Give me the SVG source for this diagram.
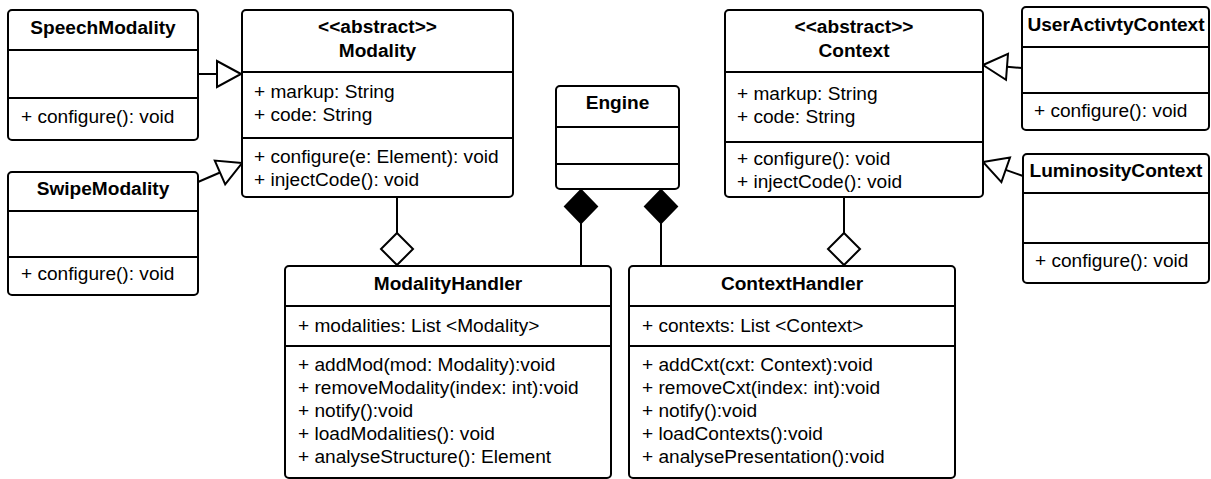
<svg xmlns="http://www.w3.org/2000/svg" width="1211" height="479" viewBox="0 0 1211 479">
  <style>
    .box { fill: #ffffff; stroke: #000000; stroke-width: 2; }
    .sep { stroke: #000000; stroke-width: 2; fill: none; }
    .edge { stroke: #000000; stroke-width: 2; fill: none; }
    .hollow { fill: #ffffff; stroke: #000000; stroke-width: 2; stroke-linejoin: miter; }
    .solid { fill: #000000; stroke: #000000; stroke-width: 2; }
    text { font-family: "Liberation Sans", Arial, sans-serif; font-size: 19.1px; fill: #000000; }
    .title { font-weight: bold; text-anchor: middle; }
  </style>

  <!-- connectors -->
  <g id="connectors">
    <!-- generalizations into Modality -->
    <line class="edge" x1="198" y1="74" x2="217" y2="74"/>
    <polygon class="hollow" points="241,74 217,61 217,87"/>
    <line class="edge" x1="198" y1="182" x2="220" y2="172.5"/>
    <polygon class="hollow" points="242,163 214.8,160.6 225.2,184.4"/>
    <!-- generalizations into Context -->
    <line class="edge" x1="1022" y1="68" x2="1007" y2="66.8"/>
    <polygon class="hollow" points="983,65 1008,53.8 1006,79.8"/>
    <line class="edge" x1="1023" y1="176" x2="1005.7" y2="169.9"/>
    <polygon class="hollow" points="983,162 1010,157.6 1001.4,182.2"/>
    <!-- aggregations -->
    <line class="edge" x1="397" y1="197" x2="397" y2="233"/>
    <polygon class="hollow" points="397,233 413,249 397,265 381,249"/>
    <line class="edge" x1="844" y1="197" x2="844" y2="233"/>
    <polygon class="hollow" points="844,233 860,249 844,265 828,249"/>
    <!-- compositions from Engine -->
    <line class="edge" x1="581" y1="223" x2="581" y2="266"/>
    <polygon class="solid" points="581,190 597,206.5 581,223 565,206.5"/>
    <line class="edge" x1="661" y1="223" x2="661" y2="266"/>
    <polygon class="solid" points="661,190 677,206.5 661,223 645,206.5"/>
  </g>

  <g id="SpeechModality">
    <rect class="box" x="8" y="10" width="190" height="130" rx="4"/>
    <line class="sep" x1="8" y1="50" x2="198" y2="50"/>
    <line class="sep" x1="8" y1="98" x2="198" y2="98"/>
    <text class="title" x="103" y="34">SpeechModality</text>
    <text x="21" y="123">+ configure(): void</text>
  </g>

  <g id="SwipeModality">
    <rect class="box" x="8" y="172" width="190" height="123" rx="4"/>
    <line class="sep" x1="8" y1="211" x2="198" y2="211"/>
    <line class="sep" x1="8" y1="257" x2="198" y2="257"/>
    <text class="title" x="103" y="195">SwipeModality</text>
    <text x="21" y="280">+ configure(): void</text>
  </g>

  <g id="Modality">
    <rect class="box" x="242" y="10" width="271" height="187" rx="4"/>
    <line class="sep" x1="242" y1="72" x2="513" y2="72"/>
    <line class="sep" x1="242" y1="138" x2="513" y2="138"/>
    <text class="title" x="377.5" y="33">&lt;&lt;abstract&gt;&gt;</text>
    <text class="title" x="377.5" y="57">Modality</text>
    <text x="254" y="98">+ markup: String</text>
    <text x="254" y="121">+ code: String</text>
    <text x="254" y="163">+ configure(e: Element): void</text>
    <text x="254" y="186">+ injectCode(): void</text>
  </g>

  <g id="Engine">
    <rect class="box" x="556" y="86" width="123" height="103" rx="4"/>
    <line class="sep" x1="556" y1="127" x2="679" y2="127"/>
    <line class="sep" x1="556" y1="164" x2="679" y2="164"/>
    <text class="title" x="617.5" y="109">Engine</text>
  </g>

  <g id="Context">
    <rect class="box" x="725" y="10" width="258" height="187" rx="4"/>
    <line class="sep" x1="725" y1="72" x2="983" y2="72"/>
    <line class="sep" x1="725" y1="142" x2="983" y2="142"/>
    <text class="title" x="854" y="33">&lt;&lt;abstract&gt;&gt;</text>
    <text class="title" x="854" y="57">Context</text>
    <text x="737" y="100">+ markup: String</text>
    <text x="737" y="123">+ code: String</text>
    <text x="737" y="165">+ configure(): void</text>
    <text x="737" y="188">+ injectCode(): void</text>
  </g>

  <g id="UserActivtyContext">
    <rect class="box" x="1022" y="7" width="187" height="123" rx="4"/>
    <line class="sep" x1="1022" y1="47" x2="1209" y2="47"/>
    <line class="sep" x1="1022" y1="93" x2="1209" y2="93"/>
    <text class="title" x="1116" y="31">UserActivtyContext</text>
    <text x="1034" y="117">+ configure(): void</text>
  </g>

  <g id="LuminosityContext">
    <rect class="box" x="1023" y="154" width="186" height="129" rx="4"/>
    <line class="sep" x1="1023" y1="193" x2="1209" y2="193"/>
    <line class="sep" x1="1023" y1="243" x2="1209" y2="243"/>
    <text class="title" x="1116" y="177">LuminosityContext</text>
    <text x="1035" y="267">+ configure(): void</text>
  </g>

  <g id="ModalityHandler">
    <rect class="box" x="285" y="266" width="326" height="212" rx="4"/>
    <line class="sep" x1="285" y1="306" x2="611" y2="306"/>
    <line class="sep" x1="285" y1="346" x2="611" y2="346"/>
    <text class="title" x="448" y="290">ModalityHandler</text>
    <text x="298" y="332">+ modalities: List &lt;Modality&gt;</text>
    <text x="298" y="371">+ addMod(mod: Modality):void</text>
    <text x="298" y="394">+ removeModality(index: int):void</text>
    <text x="298" y="417">+ notify():void</text>
    <text x="298" y="440">+ loadModalities(): void</text>
    <text x="298" y="463">+ analyseStructure(): Element</text>
  </g>

  <g id="ContextHandler">
    <rect class="box" x="629" y="266" width="326" height="212" rx="4"/>
    <line class="sep" x1="629" y1="306" x2="955" y2="306"/>
    <line class="sep" x1="629" y1="346" x2="955" y2="346"/>
    <text class="title" x="792" y="290">ContextHandler</text>
    <text x="642" y="332">+ contexts: List &lt;Context&gt;</text>
    <text x="642" y="371">+ addCxt(cxt: Context):void</text>
    <text x="642" y="394">+ removeCxt(index: int):void</text>
    <text x="642" y="417">+ notify():void</text>
    <text x="642" y="440">+ loadContexts():void</text>
    <text x="642" y="463">+ analysePresentation():void</text>
  </g>
</svg>
